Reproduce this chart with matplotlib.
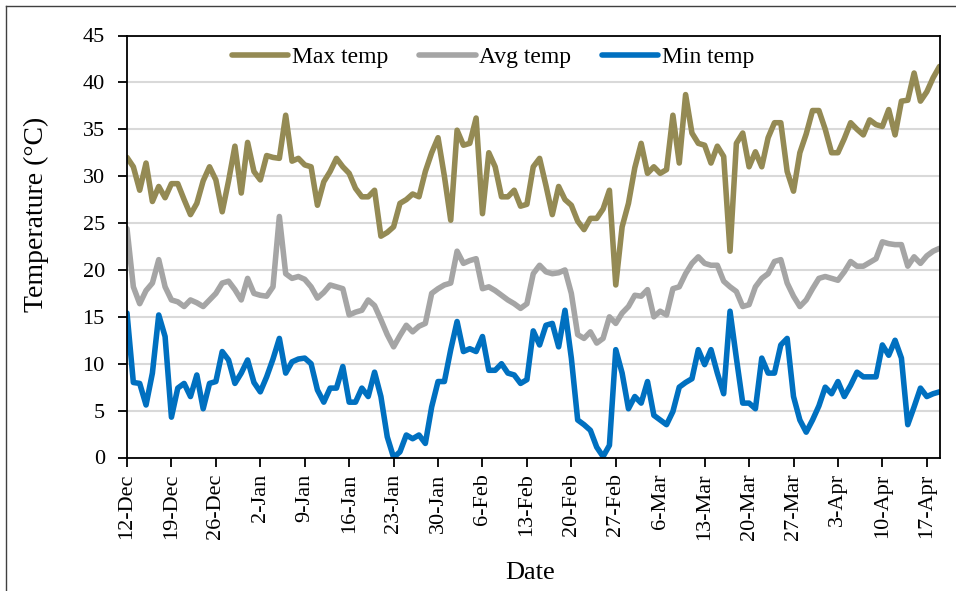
#!/usr/bin/env python3
"""Daily max / avg / min temperature, 12-Dec to 19-Apr"""

import matplotlib
matplotlib.use("Agg")

import matplotlib.pyplot as plt
import pandas as pd
from matplotlib.lines import Line2D

START_DATE = "2018-12-12"

MAX_TEMP = [
    32.0, 31.0, 28.5, 31.4, 27.3, 28.9, 27.7, 29.2, 29.2, 27.5,
    25.9, 27.1, 29.5, 31.0, 29.6, 26.2, 29.5, 33.2, 28.2, 33.6,
    30.5, 29.6, 32.2, 32.0, 31.9, 36.5, 31.6, 31.9, 31.2, 31.0,
    26.9, 29.4, 30.5, 31.9, 31.0, 30.3, 28.7, 27.8, 27.8, 28.5,
    23.6, 24.0, 24.6, 27.1, 27.5, 28.1, 27.8, 30.5, 32.5, 34.1,
    30.0, 25.3, 34.9, 33.3, 33.5, 36.2, 26.0, 32.5, 31.0, 27.8,
    27.8, 28.5, 26.8, 27.0, 31.0, 31.9, 29.0, 25.9, 28.9, 27.5,
    26.9, 25.2, 24.3, 25.5, 25.5, 26.5, 28.5, 18.4, 24.6, 27.1,
    30.9, 33.5, 30.3, 31.0, 30.3, 30.7, 36.5, 31.4, 38.7, 34.6,
    33.5, 33.3, 31.4, 33.2, 32.1, 22.0, 33.5, 34.6, 31.0, 32.6,
    31.0, 34.1, 35.7, 35.7, 30.5, 28.4, 32.5, 34.5, 37.0, 37.0,
    35.0, 32.5, 32.5, 34.0, 35.7, 35.0, 34.4, 36.0, 35.5, 35.3,
    37.1, 34.4, 38.0, 38.1, 41.0, 38.0, 39.0, 40.5, 41.7,
]

AVG_TEMP = [
    24.4, 18.2, 16.4, 17.8, 18.6, 21.1, 18.2, 16.8, 16.6, 16.1,
    16.8, 16.5, 16.1, 16.8, 17.5, 18.6, 18.8, 17.9, 16.8, 19.1,
    17.5, 17.3, 17.2, 18.2, 25.7, 19.6, 19.1, 19.3, 19.0, 18.2,
    17.0, 17.6, 18.4, 18.2, 18.0, 15.2, 15.5, 15.7, 16.8, 16.2,
    14.7, 13.1, 11.8, 13.0, 14.1, 13.4, 14.0, 14.3, 17.5, 18.0,
    18.4, 18.6, 22.0, 20.7, 21.0, 21.2, 18.0, 18.2, 17.8, 17.3,
    16.8, 16.4, 15.9, 16.4, 19.6, 20.5, 19.8, 19.6, 19.7, 20.0,
    17.5, 13.1, 12.7, 13.4, 12.2, 12.7, 15.0, 14.3, 15.4, 16.1,
    17.3, 17.2, 17.9, 15.0, 15.6, 15.2, 18.0, 18.2, 19.6, 20.7,
    21.4, 20.7, 20.5, 20.5, 18.8, 18.2, 17.7, 16.1, 16.3, 18.2,
    19.1, 19.6, 20.9, 21.1, 18.6, 17.2, 16.1, 16.8, 18.0, 19.1,
    19.3, 19.1, 18.9, 19.8, 20.9, 20.4, 20.4, 20.8, 21.2, 23.0,
    22.8, 22.7, 22.7, 20.4, 21.4, 20.7, 21.5, 22.0, 22.3,
]

MIN_TEMP = [
    15.4, 8.0, 7.9, 5.6, 9.0, 15.2, 12.9, 4.3, 7.4, 7.9,
    6.5, 8.8, 5.2, 7.9, 8.1, 11.3, 10.4, 7.9, 9.0, 10.4,
    8.0, 7.0, 8.6, 10.5, 12.7, 9.0, 10.2, 10.5, 10.6, 10.0,
    7.2, 5.9, 7.4, 7.4, 9.7, 5.9, 5.9, 7.4, 6.5, 9.1,
    6.5, 2.2, 0.0, 0.6, 2.4, 2.0, 2.4, 1.5, 5.4, 8.1,
    8.1, 11.5, 14.5, 11.3, 11.6, 11.3, 12.9, 9.3, 9.3, 10.0,
    9.0, 8.8, 7.9, 8.3, 13.5, 12.0, 14.1, 14.3, 11.8, 15.7,
    10.6, 4.0, 3.5, 2.9, 1.1, 0.1, 1.3, 11.5, 9.0, 5.2,
    6.5, 5.8, 8.1, 4.5, 4.0, 3.5, 4.9, 7.5, 8.0, 8.4,
    11.5, 9.9, 11.5, 9.0, 6.8, 15.6, 10.6, 5.8, 5.8, 5.2,
    10.6, 9.0, 9.0, 12.0, 12.7, 6.5, 4.0, 2.7, 4.0, 5.5,
    7.5, 6.8, 8.1, 6.5, 7.7, 9.1, 8.6, 8.6, 8.6, 12.0,
    10.9, 12.5, 10.6, 3.5, 5.4, 7.4, 6.5, 6.8, 7.0,
]

TICK_LABELS = [
    "12-Dec", "19-Dec", "26-Dec", "2-Jan", "9-Jan", "16-Jan", "23-Jan",
    "30-Jan", "6-Feb", "13-Feb", "20-Feb", "27-Feb", "6-Mar", "13-Mar",
    "20-Mar", "27-Mar", "3-Apr", "10-Apr", "17-Apr",
]

SERIES = [
    ("Max temp", MAX_TEMP, "#948A54"),
    ("Avg temp", AVG_TEMP, "#A5A5A5"),
    ("Min temp", MIN_TEMP, "#0070C0"),
]

W, H = 956, 591


def main():
    plt.rcParams["font.family"] = ["Liberation Serif", "DejaVu Serif"]
    dates = pd.date_range(START_DATE, periods=len(MAX_TEMP), freq="D")

    fig = plt.figure(figsize=(W / 100, H / 100), dpi=100)
    ax = fig.add_axes([127 / W, 1 - 457.5 / H, (939.5 - 127) / W, (457.5 - 35.5) / H])

    for label, values, color in SERIES:
        ax.plot(dates, values, color=color, lw=4.0, label=label,
                solid_joinstyle="round", solid_capstyle="round")

    ax.set_ylim(0, 45)
    ax.set_yticks(range(0, 46, 5))
    ax.set_xlim(dates[0], dates[-1])
    ax.set_xticks(dates[::7])
    ax.set_xticklabels(TICK_LABELS, rotation=90)

    ax.grid(axis="y", color="#D9D9D9", lw=1.5)
    ax.set_axisbelow(True)
    for s in ax.spines.values():
        s.set_color("black")
        s.set_linewidth(1.3)
    ax.tick_params(axis="both", direction="out", length=6.5, width=1.3,
                   labelsize=16, colors="black")
    ax.tick_params(axis="y", pad=9.5)
    ax.tick_params(axis="x", pad=5)

    ax.set_ylabel("Temperature (°C)", fontsize=20)
    ax.yaxis.set_label_coords(-0.112, (457.5 - 214) / 422)
    ax.yaxis.label.set_va("center")
    ax.set_xlabel("Date", fontsize=19)
    ax.xaxis.set_label_coords((530 - 127) / 812.5, (457.5 - 573) / 422)
    ax.xaxis.label.set_va("center")

    ax.legend(loc="center", bbox_to_anchor=(493 / W, 1 - 57 / H),
              bbox_transform=fig.transFigure, ncol=3, frameon=False,
              fontsize=17, handlelength=2.4, handletextpad=0.15,
              columnspacing=1.3, borderpad=0.2)

    # chart-area border (left and top only, the rest is cropped)
    fig.add_artist(Line2D([6 / W, 6 / W], [0, 1 - 6 / H], color="#404040", lw=1))
    fig.add_artist(Line2D([6 / W, 1], [1 - 6 / H, 1 - 6 / H], color="#404040", lw=1))

    fig.savefig("out.png", dpi=100)
    plt.close(fig)


if __name__ == "__main__":
    main()
